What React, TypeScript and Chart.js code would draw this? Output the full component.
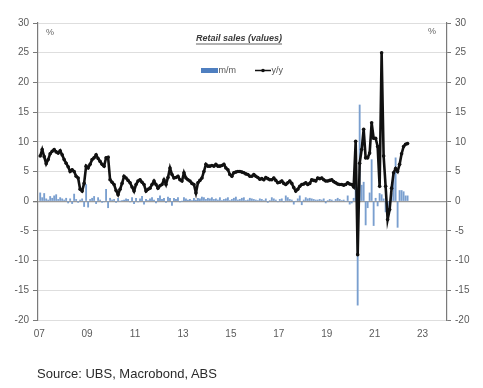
import React, { useEffect, useRef } from 'react';
import { Chart, registerables } from 'chart.js';

Chart.register(...registerables);

// ---- data ----
const START_YEAR = 2007; // first month: Jan 2007, monthly observations
const yearTicks = [2007, 2009, 2011, 2013, 2015, 2017, 2019, 2021, 2023];
const titleText = 'Retail sales (values)';
const seriesNames = ['m/m', 'y/y'];
const sourceText = 'Source: UBS, Macrobond, ABS';

// month-on-month % change
const mom = [
  1.4, 0.6, 1.3, 0.4, 0.2, 0.8, 0.5, 0.9, 1.1, 0.3, 0.6, 0.4, // 2007
  0.2, 0.5, -0.3, 0.4, -0.4, 1.2, 0.3, -0.2, 0.2, 0.4, -0.9, 2.8, // 2008
  -1.0, 0.3, 0.5, 0.8, -0.4, 0.6, 0.2, -0.2, -0.1, 2.0, -1.1, 0.5, // 2009
  0.2, 0.3, -0.2, 0.5, 0.0, 0.1, 0.2, 0.4, 0.3, -0.1, 0.6, -0.4, // 2010
  0.5, -0.1, 0.4, 0.8, -0.5, 0.3, 0.1, 0.4, 0.6, 0.2, -0.3, 0.5, // 2011
  0.9, 0.3, 0.5, -0.2, 0.7, 0.5, -0.7, 0.5, 0.3, 0.6, -0.1, 0.0, // 2012
  0.6, 0.4, 0.2, 0.3, 0.1, 0.5, 0.2, 0.5, 0.4, 0.7, 0.6, 0.3, // 2013
  0.5, 0.4, 0.6, 0.3, 0.4, 0.2, 0.6, 0.1, 0.3, 0.4, 0.6, 0.1, // 2014
  0.3, 0.5, 0.7, 0.2, 0.3, 0.5, 0.6, 0.1, 0.2, 0.5, 0.4, 0.3, // 2015
  0.2, 0.1, 0.4, 0.3, 0.1, 0.4, -0.2, 0.1, 0.6, 0.4, 0.2, -0.1, // 2016
  0.3, 0.4, -0.1, 0.9, 0.6, 0.3, 0.2, -0.5, 0.0, 0.4, 0.9, -0.6, // 2017
  0.2, 0.6, 0.4, 0.5, 0.4, 0.3, 0.2, 0.2, 0.3, 0.2, 0.4, -0.3, // 2018
  0.1, 0.3, 0.2, 0.0, 0.3, 0.5, 0.3, 0.1, 0.2, 0.0, 0.9, -0.5, // 2019
  -0.3, 0.5, 8.5, -17.5, 16.2, 2.7, 3.2, -4.0, -1.1, 1.4, 7.0, -4.1, // 2020
  0.5, -0.8, 1.3, 1.1, 0.4, -1.8, -2.7, -1.7, 1.3, 4.9, 7.3, -4.4, // 2021
  1.8, 1.8, 1.6, 0.9, 0.9, // 2022
];

// year-on-year % change
const yoy = [
  7.6, 8.7, 7.5, 6.3, 7.0, 8.0, 8.4, 8.7, 8.3, 8.1, 8.5, 7.8, // 2007
  7.0, 6.4, 5.8, 5.0, 5.3, 5.0, 4.2, 3.9, 2.0, 1.7, 3.0, 5.9, // 2008
  5.6, 6.2, 7.0, 7.3, 7.8, 7.2, 6.7, 6.2, 5.9, 7.3, 7.4, 3.6, // 2009
  3.2, 2.8, 1.8, 1.1, 2.0, 3.0, 4.2, 3.9, 3.5, 3.1, 2.4, 1.7, // 2010
  2.8, 3.4, 3.6, 3.2, 2.8, 1.7, 2.0, 2.2, 2.8, 3.4, 2.8, 2.2, // 2011
  2.6, 2.8, 3.6, 2.8, 4.0, 5.6, 4.5, 3.9, 4.0, 4.2, 3.6, 3.4, // 2012
  4.8, 3.9, 3.6, 3.4, 3.0, 2.8, 1.4, 3.1, 3.5, 3.9, 5.0, 6.2, // 2013
  5.9, 5.9, 6.0, 5.9, 6.2, 5.9, 5.9, 6.0, 6.2, 5.6, 5.3, 4.5, // 2014
  4.2, 4.8, 4.9, 5.0, 5.0, 4.9, 4.8, 4.6, 4.5, 4.2, 4.2, 4.5, // 2015
  4.2, 4.0, 3.7, 3.8, 3.6, 4.0, 3.8, 3.6, 3.6, 3.9, 3.5, 3.1, // 2016
  3.2, 3.4, 3.0, 2.8, 3.1, 3.4, 3.0, 2.3, 1.7, 2.0, 2.5, 2.8, // 2017
  2.9, 3.1, 2.8, 3.0, 3.6, 3.5, 3.4, 3.9, 3.8, 3.9, 3.6, 3.4, // 2018
  3.4, 3.5, 3.6, 3.3, 3.1, 2.9, 2.8, 2.8, 2.7, 2.8, 3.1, 2.9, // 2019
  2.8, 2.4, 10.1, -9.0, 6.4, 8.7, 12.1, 7.3, 7.3, 8.1, 13.2, 10.6, // 2020
  10.6, 9.2, 2.5, 25.0, 7.6, 2.5, -3.1, -1.4, 2.2, 4.8, 5.5, 5.0, // 2021
  6.2, 8.0, 9.2, 9.6, 9.7, // 2022
];

const monthX = (i: number) => START_YEAR + (i + 0.5) / 12;

const W = 483;
const H = 388;
const TICK_FONT = { family: '"Liberation Sans", Arial, sans-serif', size: 10 };
const TICK_COLOR = '#5a5a5a';
const AXIS_COLOR = '#7a7a7a';
const BAR_COLOR = '#7a9fcf';

const overlayPlugin = {
  id: 'overlayText',
  afterDraw(chart: any) {
    const { ctx, chartArea: a } = chart;
    ctx.save();
    // title
    ctx.font = 'italic bold 9px "Liberation Sans", Arial, sans-serif';
    ctx.fillStyle = '#3a3a3a';
    ctx.textAlign = 'center';
    ctx.textBaseline = 'middle';
    const tx = a.left + 201;
    const ty = a.top + 16;
    ctx.fillText(titleText, tx, ty);
    const tw = ctx.measureText(titleText).width;
    ctx.strokeStyle = '#3a3a3a';
    ctx.lineWidth = 0.8;
    ctx.beginPath();
    ctx.moveTo(tx - tw / 2, ty + 5);
    ctx.lineTo(tx + tw / 2, ty + 5);
    ctx.stroke();

    // legend
    const ly = a.top + 47.5;
    ctx.fillStyle = '#4f7fc0';
    ctx.fillRect(a.left + 163, ly - 2.5, 17, 5);
    ctx.font = '9px "Liberation Sans", Arial, sans-serif';
    ctx.fillStyle = '#555';
    ctx.textAlign = 'left';
    ctx.fillText(seriesNames[0], a.left + 180.5, ly);
    ctx.strokeStyle = '#111';
    ctx.lineWidth = 1.5;
    ctx.beginPath();
    ctx.moveTo(a.left + 217, ly);
    ctx.lineTo(a.left + 233, ly);
    ctx.stroke();
    ctx.fillStyle = '#111';
    ctx.beginPath();
    ctx.arc(a.left + 225, ly, 1.8, 0, Math.PI * 2);
    ctx.fill();
    ctx.fillStyle = '#555';
    ctx.fillText(seriesNames[1], a.left + 233.5, ly);

    // % labels
    ctx.font = '9px "Liberation Sans", Arial, sans-serif';
    ctx.fillStyle = '#666';
    ctx.textAlign = 'center';
    ctx.fillText('%', a.left + 12, a.top + 10);
    ctx.fillText('%', a.right - 15, a.top + 9);
    ctx.restore();
  },
};

export default function App() {
  const ref = useRef<HTMLCanvasElement | null>(null);

  useEffect(() => {
    if (!ref.current) return;
    const chart = new Chart(ref.current, {
      type: 'bar',
      data: {
        datasets: [
          {
            type: 'line',
            label: seriesNames[1],
            data: yoy.map((v, i) => ({ x: monthX(i), y: v })),
            borderColor: '#111',
            borderWidth: 2.6,
            pointRadius: 1.8,
            pointBackgroundColor: '#111',
            pointBorderWidth: 0,
            tension: 0,
            order: 1,
            yAxisID: 'y',
          } as any,
          {
            type: 'bar',
            label: seriesNames[0],
            data: mom.map((v, i) => ({ x: monthX(i), y: v })),
            backgroundColor: BAR_COLOR,
            barThickness: 1.2,
            order: 2,
            yAxisID: 'y',
          } as any,
        ],
      },
      options: {
        responsive: false,
        animation: false,
        devicePixelRatio: 1,
        layout: { padding: { top: 23, left: 0, right: 0, bottom: 0 } },
        plugins: {
          legend: { display: false },
          tooltip: { enabled: false },
          title: { display: false },
        },
        scales: {
          x: {
            type: 'linear',
            min: 2006.95,
            max: 2024.02,
            offset: false,
            grid: { display: false, drawTicks: false },
            border: { display: false },
            afterBuildTicks: (s: any) => {
              s.ticks = yearTicks.map((v) => ({ value: v }));
            },
            ticks: {
              autoSkip: false,
              maxRotation: 0,
              padding: 8,
              font: TICK_FONT,
              color: TICK_COLOR,
              callback: (v: any) => String(Number(v) % 100).padStart(2, '0'),
            },
            afterFit: (s: any) => {
              s.height = 68;
            },
          },
          y: {
            position: 'left',
            min: -20,
            max: 30,
            ticks: { stepSize: 5, font: TICK_FONT, color: TICK_COLOR, padding: 4 },
            grid: {
              color: (c: any) => (c.tick && c.tick.value === 0 ? '#9a9a9a' : '#dedede'),
              lineWidth: (c: any) => (c.tick && c.tick.value === 0 ? 1.3 : 1),
              tickColor: AXIS_COLOR,
              tickLength: 5,
            },
            border: { display: true, color: AXIS_COLOR, width: 1.2 },
            afterFit: (s: any) => {
              s.width = 38;
            },
          },
          y2: {
            position: 'right',
            min: -20,
            max: 30,
            ticks: { stepSize: 5, font: TICK_FONT, color: TICK_COLOR, padding: 4 },
            grid: { drawOnChartArea: false, tickColor: AXIS_COLOR, tickLength: 4 },
            border: { display: true, color: AXIS_COLOR, width: 1.2 },
            afterFit: (s: any) => {
              s.width = 36;
            },
          },
        },
      } as any,
      plugins: [overlayPlugin],
    });
    return () => chart.destroy();
  }, []);

  return (
    <div style={{ position: 'absolute', left: 0, top: 0, width: W, height: H, background: '#fff' }}>
      <canvas ref={ref} width={W} height={H} style={{ width: W, height: H, display: 'block' }} />
      <div
        style={{
          position: 'absolute',
          left: 37,
          top: 366,
          fontFamily: '"Liberation Sans", Arial, sans-serif',
          fontSize: 13,
          color: '#2a2a2a',
          whiteSpace: 'nowrap',
          lineHeight: '16px',
        }}
      >
        {sourceText}
      </div>
    </div>
  );
}
